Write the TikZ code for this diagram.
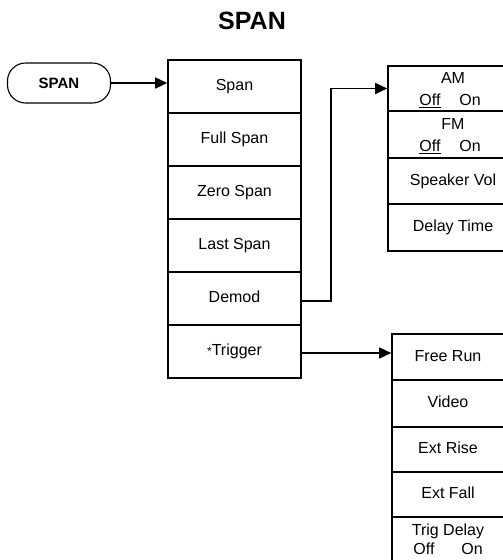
\documentclass[tikz,border=0pt]{standalone}
\usepackage{fontspec}
\setmainfont{Liberation Sans}
\usetikzlibrary{arrows.meta}
\begin{document}
\begin{tikzpicture}[x=1pt,y=-1pt, line width=1.6pt,
 menubox/.style={draw, rectangle, inner sep=0pt, font=\fontsize{16}{18}\selectfont, text height=11.5pt, text depth=3pt},
 lbl/.style={inner sep=0pt, font=\fontsize{16}{18}\selectfont, text height=11.5pt, text depth=3pt},
 conn/.style={-{Triangle[length=12pt,width=11pt]}, line width=1.6pt}]
\useasboundingbox (0,0) rectangle (503,560);
\clip (0,0) rectangle (503,560);
\node[font=\bfseries\fontsize{25}{28}\selectfont] (title) at (252,21) {SPAN};
\node[draw, rounded corners=18pt, minimum width=103pt, minimum height=40pt, font=\bfseries\fontsize{15}{17}\selectfont, line width=1.1pt] (key) at (59,83) {SPAN};
% main column
\begin{scope}[every node/.style={menubox, minimum width=133pt, minimum height=53pt}]
\node (span) at (234.5,86.5) {Span};
\node (full) at (234.5,139.5) {Full Span};
\node (zero) at (234.5,192.5) {Zero Span};
\node (last) at (234.5,245.5) {Last Span};
\node (demod) at (234.5,298.5) {Demod};
\node (trig) at (234.5,351.5) {{\fontsize{12}{12}\selectfont\raisebox{0.5pt}{*}}Trigger};
\end{scope}
% demod submenu
\begin{scope}[every node/.style={menubox, minimum width=130pt}]
\node[minimum height=45pt] (am) at (453,88.5) {};
\node[minimum height=47pt] (fm) at (453,134.5) {};
\node[minimum height=46pt] (spk) at (453,181) {Speaker Vol};
\node[minimum height=47pt] (dly) at (453,227.5) {Delay Time};
\end{scope}
\node[lbl] (amt) at (453,79) {AM};
\node[lbl] (amoff) at (430,101) {\underline{Off}};
\node[lbl] (amon) at (470,101) {On};
\node[lbl] (fmt) at (453,125) {FM};
\node[lbl] (fmoff) at (430,147) {\underline{Off}};
\node[lbl] (fmon) at (470,147) {On};
% trigger submenu
\begin{scope}[every node/.style={menubox, minimum width=112pt}]
\node[minimum height=46pt] (free) at (448,357) {Free Run};
\node[minimum height=47pt] (video) at (448,403.5) {Video};
\node[minimum height=45pt] (rise) at (448,449.5) {Ext Rise};
\node[minimum height=45pt] (fall) at (448,494.5) {Ext Fall};
\node[minimum height=60pt] (tdly) at (448,547) {};
\end{scope}
\node[lbl] (tdt) at (448,531) {Trig Delay};
\node[lbl] (tdoff) at (424,550) {Off};
\node[lbl] (tdon) at (472,550) {On};
% connectors
\draw[conn] (key.east) -- (key.east -| span.west);
\draw[conn] ([yshift=-2.5pt]demod.east) -- ++(29,0) |- (am.west);
\draw[conn] ([yshift=-1.5pt]trig.east) -- ([yshift=-1.5pt]trig.east -| free.west);
\end{tikzpicture}
\end{document}
